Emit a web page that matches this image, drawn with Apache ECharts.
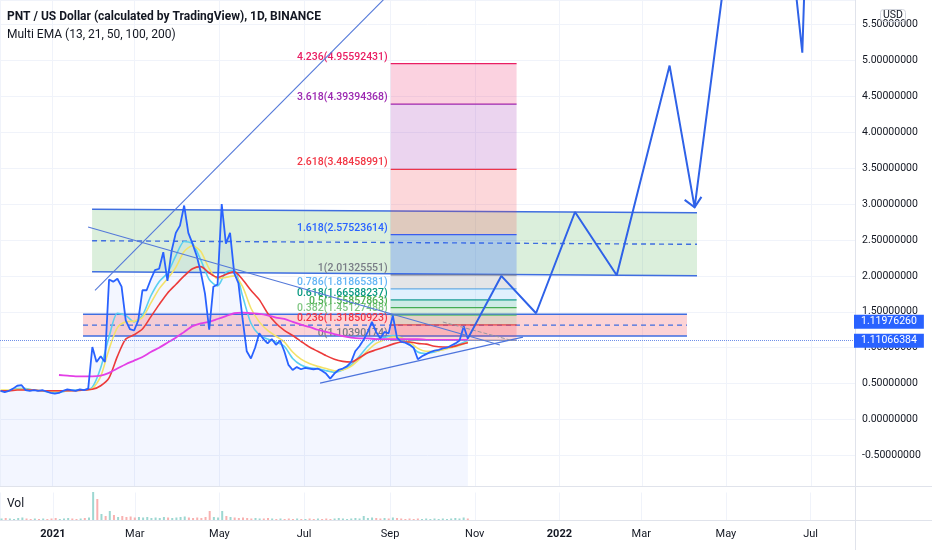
<!DOCTYPE html>
<html><head><meta charset="utf-8">
<script src="https://cdn.jsdelivr.net/npm/echarts@6/dist/echarts.min.js"></script>
<style>html,body{margin:0;padding:0;background:#fff}#c{width:932px;height:550px}</style>
</head><body><div id="c"></div><script>
// ---------------- DATA ----------------
const priceStart = '2020-11-25';
const priceStepDays = 3;
const priceValues = [0.40,0.38,0.40,0.43,0.47,0.48,0.41,0.40,0.41,0.40,
 0.41,0.39,0.37,0.36,0.37,0.40,0.42,0.41,0.40,0.42,
 0.41,0.43,1.01,0.80,0.88,0.80,1.95,1.92,1.96,1.85,
 1.38,1.26,1.24,1.38,1.80,1.80,1.95,2.08,2.10,2.33,
 1.93,2.35,2.60,2.70,2.98,2.60,2.45,2.28,2.05,1.75,
 1.25,1.85,1.88,3.00,2.45,2.60,2.04,1.90,1.40,0.95,
 0.85,1.00,1.20,1.12,1.06,1.12,1.04,1.10,0.95,0.76,
 0.69,0.73,0.70,0.72,0.71,0.70,0.71,0.68,0.64,0.57,
 0.64,0.69,0.71,0.74,0.80,0.95,1.02,1.11,1.22,1.36,
 1.22,1.13,1.22,1.20,1.45,1.14,1.08,1.07,1.04,1.00,
 0.84,0.88,0.91,0.94,0.96,0.97,0.99,1.00,1.03,1.06,
 1.10,1.30,1.12];
const volumeValues = [1.5,2,1.5,1,2,2.5,1.5,1,1.5,1,
 1.5,1,1.5,2,1,1.5,2,1.5,1,1.5,
 2,2.5,28,21,6,4,9,5,3,4,
 3,3.5,2.5,3,2.5,3,2,2.5,2,3,
 2.5,2,2.5,3,3.5,2.5,2,2.5,2,3,
 9,3,2.5,9,4,3,2.5,2,2.5,2,
 1.5,2,1.5,1.5,2,1.5,1,1.5,1,1.5,
 1,1.5,1,1,1.5,1,1.5,1,1.5,1,
 1.5,2,1.5,1,1.5,2,1.5,4,2,2.5,
 2,1.5,2,1.5,2.5,2,1.5,1,1.5,1,
 1.5,1,1.5,1,1.5,1,1.5,1,1.5,2,
 1.5,2.5,1.5];
const emaStart = '2020-11-25';
const emaStepDays = 6;
const ema13 = [0.40,0.40,0.43,0.43,0.41,0.40,0.38,0.38,0.40,0.41,
 0.41,0.45,0.72,1.15,1.48,1.45,1.36,1.45,1.72,1.92,
 2.04,2.28,2.48,2.45,2.22,1.95,1.86,2.05,2.08,1.72,
 1.34,1.18,1.12,1.08,1.02,0.85,0.76,0.72,0.71,0.68,
 0.66,0.69,0.76,0.88,1.02,1.12,1.14,1.17,1.14,1.05,
 0.94,0.92,0.94,0.98,1.01,1.05,1.10];
const ema21 = [0.41,0.41,0.42,0.42,0.41,0.40,0.39,0.39,0.40,0.40,
 0.41,0.43,0.60,0.98,1.28,1.36,1.37,1.42,1.62,1.82,
 1.96,2.12,2.34,2.42,2.34,2.10,1.96,1.98,2.00,1.85,
 1.55,1.36,1.24,1.16,1.08,0.94,0.84,0.78,0.74,0.71,
 0.68,0.69,0.74,0.84,0.96,1.06,1.11,1.15,1.14,1.08,
 0.99,0.95,0.95,0.97,1.00,1.03,1.08];
const ema50 = [0.40,0.40,0.41,0.41,0.41,0.40,0.40,0.40,0.40,0.40,
 0.41,0.42,0.47,0.58,0.88,1.12,1.18,1.26,1.43,1.60,
 1.76,1.88,2.00,2.10,2.13,2.04,1.98,2.02,2.06,1.95,
 1.80,1.67,1.48,1.34,1.24,1.17,1.09,1.01,0.95,0.89,
 0.84,0.81,0.80,0.86,0.93,0.97,1.01,1.05,1.08,1.08,
 1.06,1.05,1.02,1.01,1.01,1.04,1.07];
const ema100 = [null,null,null,null,null,null,null,
 0.62,0.61,0.60,0.60,0.60,0.61,0.65,0.71,0.77,0.82,0.87,0.94,1.00,
 1.07,1.14,1.22,1.30,1.34,1.36,1.40,1.44,1.48,1.49,
 1.48,1.47,1.45,1.42,1.40,1.36,1.32,1.29,1.25,1.22,
 1.19,1.16,1.14,1.13,1.13,1.12,1.12,1.12,1.12,1.12,
 1.12,1.11,1.11,1.11,1.11,1.11,1.11];
const priceTags = [1.11976260, 1.11066384];
const fibStart = '2021-09-01 12:00';
const fibEnd = '2021-12-01 00:00';
const fibRatios = [0, 0.236, 0.382, 0.5, 0.618, 0.786, 1, 1.618, 2.618, 3.618, 4.236];
const fibValues = [1.10390174, 1.31850923, 1.45127488, 1.55857863, 1.66588237, 1.81865381, 2.01325551, 2.57523614, 3.48458991, 4.39394368, 4.95592431];
const greenChannel = { start: '2021-01-29 19:00', end: '2022-04-09 17:00', top: [2.928, 2.880], mid: [2.49, 2.44], bottom: [2.059, 2.003] };
const pinkBox = { start: '2021-01-23 07:00', end: '2022-04-02 12:00', top: [1.465, 1.465], mid: [1.315, 1.315], bottom: [1.163, 1.163] };
const risingLine = { dates: ['2021-01-31 22:00', '2021-09-22 14:00'], values: [1.80, 6.36] };
const fallingLine = { dates: ['2021-01-26 22:00', '2021-11-19 00:00'], values: [2.68, 1.038] };
const supportLine = { dates: ['2021-07-12 17:00', '2021-12-05 14:00'], values: [0.508, 1.149] };
const greyDashLine = { dates: ['2021-10-09 00:00', '2021-11-27 17:00'], values: [1.358, 1.10] };
const projDates = ['2021-10-27 00:00', '2021-11-20 00:00', '2021-12-15 00:00', '2022-01-12 00:00', '2022-02-11 00:00', '2022-03-21 00:00', '2022-04-08 00:00', '2022-05-03 00:00', '2022-06-15 19:00', '2022-06-24 10:00', '2022-06-27 01:00'];
const projValues = [1.13, 2.00, 1.48, 2.89, 2.01, 4.93, 2.955, 6.68, 6.68, 5.11, 6.68];

// ---------------- HELPERS ----------------
const DAY = 86400000;
const T = s => { const p = s.split(' '); return new Date(p[0] + 'T' + (p[1] || '00:00')).getTime(); };
const xMin = T('2021-01-01') - 37.4 * DAY;
const xMax = T('2021-01-01') + 577.3 * DAY;
const font = 'Roboto, "Liberation Sans", sans-serif';
const hexA = (h, a) => { const n = parseInt(h.slice(1), 16); return 'rgba(' + (n >> 16) + ',' + ((n >> 8) & 255) + ',' + (n & 255) + ',' + a + ')'; };
const fibColors = ['#787b86', '#f23645', '#81c784', '#4caf50', '#089981', '#64b5f6', '#787b86', '#2962ff', '#f23645', '#9c27b0', '#e91e63'];
const BOX_LINE = '#3f6ee0';

const priceData = priceValues.map((v, i) => [T(priceStart) + i * priceStepDays * DAY, v]);
const emaData = arr => arr.map((v, i) => [T(emaStart) + i * emaStepDays * DAY, v]);

function channelSeries(ch, fill) {
  return {
    type: 'custom', xAxisIndex: 0, yAxisIndex: 0, z: 2, silent: true, clip: true,
    data: [[T(ch.start), ch.top[0], T(ch.end), ch.top[1], ch.mid[0], ch.mid[1], ch.bottom[0], ch.bottom[1]]],
    renderItem: (params, api) => {
      const x0 = api.value(0), x1 = api.value(2);
      const P = (x, d) => api.coord([x, api.value(d)]);
      const tl = P(x0, 1), tr = P(x1, 3), ml = P(x0, 4), mr = P(x1, 5), bl = P(x0, 6), br = P(x1, 7);
      const ln = (p, q, dash) => ({ type: 'line', shape: { x1: p[0], y1: p[1], x2: q[0], y2: q[1] }, style: { stroke: BOX_LINE, lineWidth: 1.4, lineDash: dash || null } });
      return { type: 'group', children: [
        { type: 'polygon', shape: { points: [tl, tr, br, bl] }, style: { fill: fill } },
        ln(tl, tr), ln(bl, br), ln(ml, mr, [5, 4])
      ] };
    }
  };
}
function trendSeries(tl, color, width, type) {
  return { type: 'line', xAxisIndex: 0, yAxisIndex: 0, z: 6, silent: true, symbol: 'none', clip: true,
    data: tl.dates.map((d, i) => [T(d), tl.values[i]]),
    lineStyle: { color: color, width: width, type: type || 'solid' } };
}

// ---------------- CHART ----------------
const chart = echarts.init(document.getElementById('c'));
const option = {
  animation: false,
  backgroundColor: '#ffffff',
  textStyle: { fontFamily: font },
  title: [
    { text: 'PNT / US Dollar (calculated by TradingView), 1D, BINANCE', left: 7, top: 11, padding: 0, textStyle: { fontSize: 12, fontWeight: 'bold', color: '#131722', fontFamily: font } },
    { text: 'Multi EMA (13, 21, 50, 100, 200)', left: 7, top: 29, padding: 0, textStyle: { fontSize: 12, fontWeight: 'normal', color: '#131722', fontFamily: font } },
    { text: 'Vol', left: 7, top: 498, padding: 0, textStyle: { fontSize: 12, fontWeight: 'normal', color: '#131722', fontFamily: font } },
    { text: 'USD', left: 880, top: 9, padding: [1, 3], borderColor: '#d1d4dc', borderWidth: 1, borderRadius: 3, textStyle: { fontSize: 10.5, fontWeight: 'normal', color: '#131722', fontFamily: font } }
  ],
  grid: [
    { left: 0, right: 77, top: 0, height: 491.3 },
    { left: 0, right: 77, top: 486, height: 34 }
  ],
  xAxis: [
    { type: 'time', gridIndex: 0, min: xMin, max: xMax, splitNumber: 8,
      axisLine: { show: false }, axisTick: { show: false }, axisLabel: { show: false },
      splitLine: { show: true, lineStyle: { color: '#f0f3fa' } } },
    { type: 'time', gridIndex: 1, min: xMin, max: xMax, splitNumber: 8,
      axisLine: { show: false }, axisTick: { show: false },
      axisLabel: { color: '#131722', fontSize: 11, margin: 9, fontFamily: font },
      splitLine: { show: true, lineStyle: { color: '#f0f3fa' } } }
  ],
  yAxis: [
    { type: 'value', gridIndex: 0, position: 'right', min: -1, max: 5.843, interval: 0.5,
      axisLine: { show: false }, axisTick: { show: false },
      axisLabel: { margin: 7, color: '#131722', fontSize: 10.5, fontFamily: font,
        formatter: v => (v < -0.75 || v > 5.6) ? '' : v.toFixed(8) },
      splitLine: { lineStyle: { color: '#f0f3fa' } } },
    { type: 'value', gridIndex: 1, min: 0, max: 34, show: false, splitLine: { show: false } }
  ],
  series: [
    {
      type: 'line', name: 'PNT area', xAxisIndex: 0, yAxisIndex: 0, z: 1, symbol: 'none', silent: true, data: priceData,
      lineStyle: { width: 0 },
      areaStyle: { color: 'rgba(41,98,255,0.08)', origin: 'start' }
    },
    channelSeries(greenChannel, 'rgba(76,175,80,0.2)'),
    channelSeries(pinkBox, 'rgba(242,54,69,0.22)'),
    {
      type: 'custom', xAxisIndex: 0, yAxisIndex: 0, z: 3, silent: true, clip: true,
      data: fibRatios.map((r, i) => [T(fibStart), fibValues[i], T(fibEnd), i > 0 ? fibValues[i - 1] : fibValues[i], i]),
      renderItem: (params, api) => {
        const i = api.value(4);
        const x0 = api.value(0), x1 = api.value(2), v = api.value(1), pv = api.value(3);
        const a = api.coord([x0, v]), b = api.coord([x1, v]);
        const ch = [];
        if (i > 0) {
          const c = api.coord([x0, pv]);
          ch.push({ type: 'rect', shape: { x: a[0], y: a[1], width: b[0] - a[0], height: c[1] - a[1] }, style: { fill: hexA(fibColors[i], i === 7 ? 0.26 : 0.2) } });
        }
        ch.push({ type: 'line', shape: { x1: a[0], y1: a[1], x2: b[0], y2: b[1] }, style: { stroke: fibColors[i], lineWidth: 1.2 } });
        ch.push({ type: 'text', x: a[0] - 3, y: a[1] - 1, style: { text: fibRatios[i] + '(' + fibValues[i].toFixed(8) + ')', fill: fibColors[i], fontSize: 10.5, fontWeight: 500, fontFamily: font, align: 'right', verticalAlign: 'bottom' } });
        return { type: 'group', children: ch };
      }
    },
    { type: 'line', name: 'EMA13', xAxisIndex: 0, yAxisIndex: 0, z: 4, symbol: 'none', smooth: 0.25, data: emaData(ema13), lineStyle: { color: '#5ad0f0', width: 1.6 } },
    { type: 'line', name: 'EMA21', xAxisIndex: 0, yAxisIndex: 0, z: 4, symbol: 'none', smooth: 0.25, data: emaData(ema21), lineStyle: { color: '#f3e26a', width: 1.6 } },
    { type: 'line', name: 'EMA50', xAxisIndex: 0, yAxisIndex: 0, z: 4, symbol: 'none', smooth: 0.25, data: emaData(ema50), lineStyle: { color: '#ec3a3a', width: 1.6 } },
    { type: 'line', name: 'EMA100', xAxisIndex: 0, yAxisIndex: 0, z: 4, symbol: 'none', smooth: 0.25, data: emaData(ema100), lineStyle: { color: '#e33fe6', width: 1.8 } },
    {
      type: 'line', name: 'PNT', xAxisIndex: 0, yAxisIndex: 0, z: 5, symbol: 'none', data: priceData,
      lineStyle: { color: '#2962ff', width: 1.8 },
      markLine: { silent: true, symbol: 'none', label: { show: false },
        lineStyle: { color: '#6f8fe8', type: 'dotted', width: 1 },
        data: [{ yAxis: priceTags[1] }] }
    },
    trendSeries(risingLine, '#5479d9', 1.1),
    trendSeries(fallingLine, '#5479d9', 1.1),
    trendSeries(supportLine, '#4d74dc', 1.3),
    trendSeries(greyDashLine, '#9598a1', 1, 'dashed'),
    { type: 'line', xAxisIndex: 0, yAxisIndex: 0, z: 6, silent: true, symbol: 'none', clip: true,
      data: projDates.map((d, i) => [T(d), projValues[i]]),
      lineStyle: { color: '#2f62e8', width: 2 } },
    {
      type: 'custom', xAxisIndex: 0, yAxisIndex: 0, z: 6, silent: true, clip: true,
      data: [[T(projDates[5]), projValues[5], T(projDates[6]), projValues[6]]],
      renderItem: (params, api) => {
        const a = api.coord([api.value(0), api.value(1)]), b = api.coord([api.value(2), api.value(3)]);
        const ang = Math.atan2(a[1] - b[1], a[0] - b[0]), L = 12.5, s = 43 * Math.PI / 180;
        const p1 = [b[0] + L * Math.cos(ang + s), b[1] + L * Math.sin(ang + s)];
        const p2 = [b[0] + L * Math.cos(ang - s), b[1] + L * Math.sin(ang - s)];
        return { type: 'polyline', shape: { points: [p1, b, p2] }, style: { stroke: '#2f62e8', lineWidth: 2, fill: null } };
      }
    },
    {
      type: 'bar', name: 'Vol', xAxisIndex: 1, yAxisIndex: 1, z: 10, barWidth: 2, silent: true,
      data: volumeValues.map((v, i) => ({
        value: [T(priceStart) + i * priceStepDays * DAY, v],
        itemStyle: { color: (i === 0 || priceValues[i] >= priceValues[i - 1]) ? 'rgba(38,166,154,0.45)' : 'rgba(239,83,80,0.45)' }
      }))
    }
  ]
};
chart.setOption(option);

const yLow = chart.convertToPixel({ yAxisIndex: 0 }, priceTags[1]);
const tagStyle = t => ({ text: t, fill: '#ffffff', backgroundColor: '#2962ff', padding: [2, 7, 1, 7], fontSize: 10.5, fontFamily: font, verticalAlign: 'middle', align: 'left' });
chart.setOption({
  graphic: { elements: [
    { type: 'rect', id: 'mask', z: 8, silent: true, shape: { x: 0, y: 486.5, width: 932, height: 6 }, style: { fill: '#ffffff' } },
    { type: 'line', id: 'sep1', z: 9, silent: true, shape: { x1: 0, y1: 486.5, x2: 932, y2: 486.5 }, style: { stroke: '#e0e3eb', lineWidth: 1 } },
    { type: 'line', id: 'sep2', z: 9, silent: true, shape: { x1: 0, y1: 520.5, x2: 932, y2: 520.5 }, style: { stroke: '#e0e3eb', lineWidth: 1 } },
    { type: 'line', id: 'sep3', z: 9, silent: true, shape: { x1: 855.5, y1: 0, x2: 855.5, y2: 550 }, style: { stroke: '#e0e3eb', lineWidth: 1 } },
    { type: 'text', id: 'tag1', z: 20, silent: true, x: 854, y: yLow - 18, style: tagStyle(priceTags[0].toFixed(8)) },
    { type: 'text', id: 'tag2', z: 20, silent: true, x: 854, y: yLow + 1, style: tagStyle(priceTags[1].toFixed(8)) }
  ] }
});
</script></body></html>
